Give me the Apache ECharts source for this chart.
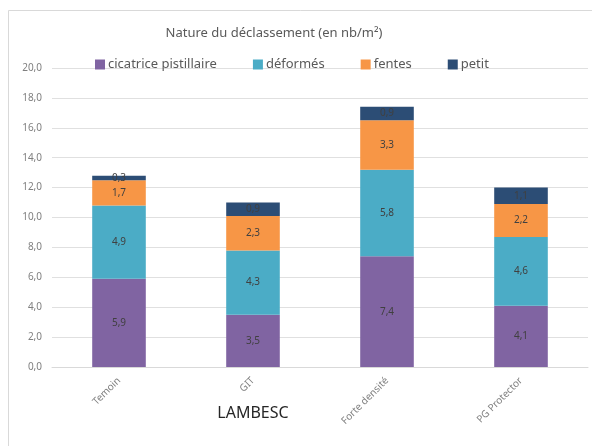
<!DOCTYPE html>
<html>
<head>
<meta charset="utf-8">
<script src="https://cdn.jsdelivr.net/npm/echarts@6/dist/echarts.min.js"></script>
<style>
html,body{margin:0;padding:0;background:#fff;}
#c{width:592px;height:446px;}
</style>
</head>
<body>
<div id="c"></div>
<script>
const categories = ['Temoin', 'GIT', 'Forte densité', 'PG Protector'];
const seriesNames = ['cicatrice pistillaire', 'déformés', 'fentes', 'petit'];
const cicatrice = [5.9, 3.5, 7.4, 4.1];
const deformes = [4.9, 4.3, 5.8, 4.6];
const fentes = [1.7, 2.3, 3.3, 2.2];
const petit = [0.3, 0.9, 0.9, 1.1];
const colors = ['#8064A2', '#4BACC6', '#F79646', '#2C4D75'];
const yMin = 0, yMax = 20, yStep = 2;

const FONT = '"Noto Sans", "Liberation Sans", sans-serif';
const chart = echarts.init(document.getElementById('c'), null, {renderer: 'canvas'});
const fmt = v => v.toFixed(1).replace('.', ',');
const allData = [cicatrice, deformes, fentes, petit];

chart.setOption({
  animation: false,
  backgroundColor: '#fff',
  title: {
    text: 'Nature du déclassement (en nb/m²)',
    left: 269, top: 22, textAlign: 'center',
    textStyle: {fontFamily: FONT, fontSize: 13, fontWeight: 'normal', color: '#595959'}
  },
  legend: {
    data: seriesNames,
    left: 90, top: 53,
    itemWidth: 10, itemHeight: 10, itemGap: 36,
    icon: 'rect',
    textStyle: {fontFamily: FONT, fontSize: 13, color: '#595959', padding: [0, 0, 0, -2]}
  },
  grid: {left: 52, right: 4, top: 68, bottom: 79, containLabel: false},
  xAxis: {
    type: 'category',
    data: categories,
    axisLine: {lineStyle: {color: '#d9d9d9'}},
    axisTick: {show: false},
    axisLabel: {rotate: 45, fontFamily: FONT, fontSize: 10, color: '#7f7f7f', margin: 12}
  },
  yAxis: {
    type: 'value', min: yMin, max: yMax, interval: yStep,
    axisLine: {show: false}, axisTick: {show: false},
    splitLine: {lineStyle: {color: '#e0e0e0'}},
    axisLabel: {fontFamily: FONT, fontSize: 10, color: '#7f7f7f', margin: 10, formatter: fmt}
  },
  graphic: [
    {type: 'rect', shape: {x: 8.5, y: 10.5, width: 640, height: 500},
     style: {fill: 'none', stroke: '#d9d9d9', lineWidth: 1}, silent: true, z: -1},
    {type: 'text', x: 253, y: 413,
     style: {text: 'LAMBESC', fontFamily: FONT, fontSize: 16, fill: '#262626', textAlign: 'center', textVerticalAlign: 'middle'}}
  ],
  series: seriesNames.map((n, i) => ({
    name: n,
    type: 'bar',
    stack: 'total',
    barWidth: '40%',
    data: allData[i],
    itemStyle: {color: colors[i]},
    label: {show: true, position: 'inside', formatter: p => fmt(p.value),
            fontFamily: FONT, fontSize: 10, color: '#404040'}
  }))
});
</script>
</body>
</html>
